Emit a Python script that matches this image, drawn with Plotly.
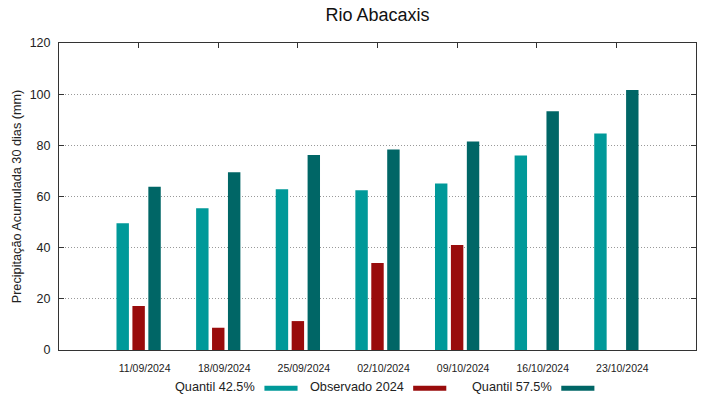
import plotly.graph_objects as go

dates = ["11/09/2024", "18/09/2024", "25/09/2024", "02/10/2024", "09/10/2024", "16/10/2024", "23/10/2024"]
q425 = [49.5, 55.4, 62.8, 62.4, 65.1, 76.0, 84.6]
obs2024 = [17.2, 8.7, 11.3, 34.0, 41.0, None, None]
q575 = [63.8, 69.5, 76.2, 78.4, 81.5, 93.3, 101.6]
series_names = ["Quantil 42.5%", "Observado 2024", "Quantil 57.5%"]
colors = ["#009999", "#990c0c", "#006666"]

FONT = "Liberation Sans, Arial, sans-serif"
xidx = list(range(len(dates)))

fig = go.Figure()
for name, vals, col in zip(series_names, [q425, obs2024, q575], colors):
    fig.add_trace(go.Bar(x=xidx, y=vals, name=name, marker=dict(color=col, line=dict(width=0)),
                         showlegend=False))

# invisible trace to host the top tick axis
fig.add_trace(go.Scatter(x=[xidx[0]], y=[0], xaxis="x2", mode="markers",
                         marker=dict(opacity=0), showlegend=False, hoverinfo="skip"))

fig.update_layout(
    width=719, height=399,
    margin=dict(l=59, r=23, t=43, b=49, autoexpand=False),
    paper_bgcolor="white", plot_bgcolor="white",
    font=dict(family=FONT, color="#222"),
    title=dict(text="Rio Abacaxis", xref="paper", x=0.5, xanchor="center", y=0.963, yanchor="middle",
               font=dict(size=18, color="#111", family=FONT)),
    barmode="group", bargap=0.4, bargroupgap=0.22,
    xaxis=dict(range=[-1, 7], tickvals=xidx, ticktext=dates, ticks="",
               tickfont=dict(size=10.5, color="#222"), ticklabelshift=6, ticklabelstandoff=8,
               showline=True, linecolor="#333", linewidth=1, mirror=True,
               showgrid=False, zeroline=False, automargin=False),
    xaxis2=dict(range=[-1, 7], overlaying="x", side="top", anchor="y", tickvals=xidx,
                ticks="inside", ticklen=5, tickcolor="#333", showticklabels=False,
                showgrid=False, zeroline=False, showline=False),
    yaxis=dict(range=[0, 120], dtick=20, ticks="inside", ticklen=5, tickcolor="#333",
               tickfont=dict(size=12.5, color="#222"), ticklabelstandoff=5,
               showline=True, linecolor="#333", linewidth=1, mirror="ticks", automargin=False,
               showgrid=True, gridcolor="#999999", griddash="1px,2px", gridwidth=1, zeroline=False,
               title=dict(text="Precipitação Acumulada 30 dias (mm)", font=dict(size=12.7, color="#222"),
                          standoff=5)),
)

# custom legend: label followed by a colour sample
legend_text_right = [0.3115, 0.5450, 0.7775]
for name, col, xr in zip(series_names, colors, legend_text_right):
    fig.add_annotation(text=name, xref="paper", yref="paper", x=xr, y=-0.122,
                       xanchor="right", yanchor="middle", showarrow=False,
                       font=dict(size=12.7, color="#222", family=FONT))
    fig.add_shape(type="rect", xref="paper", yref="paper",
                  x0=xr + 0.011, x1=xr + 0.063, y0=-0.1165, y1=-0.133,
                  fillcolor=col, line=dict(width=0))

fig.write_html("out.html", config={"displayModeBar": False},
               post_script="document.body.style.margin='0px';")
